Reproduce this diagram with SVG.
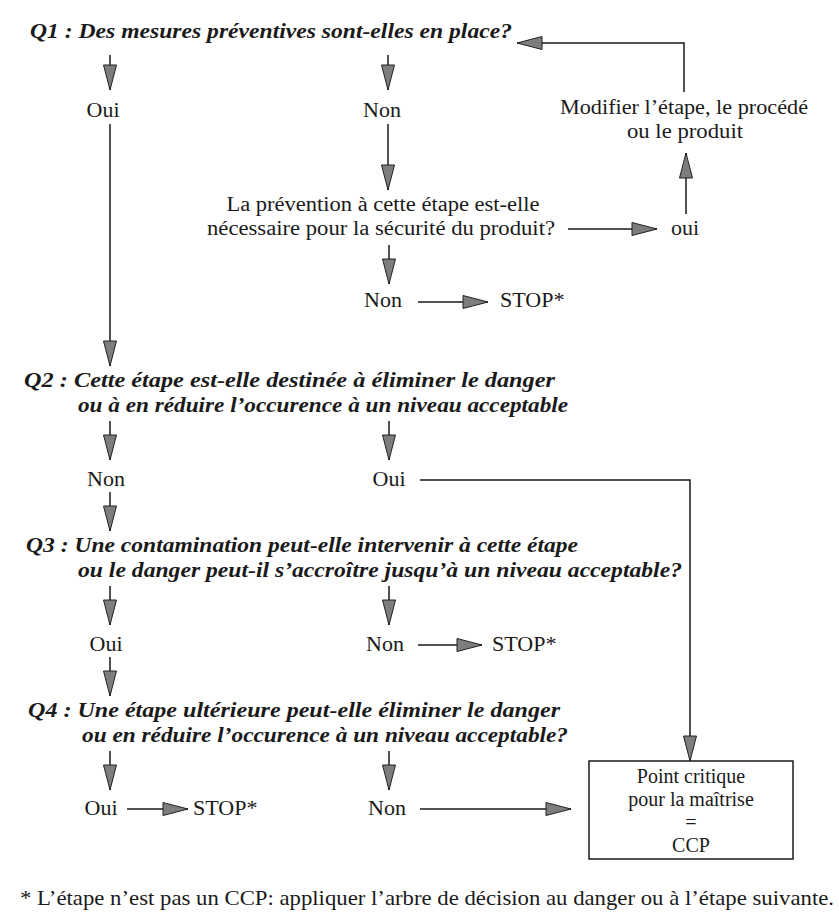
<svg xmlns="http://www.w3.org/2000/svg" width="839" height="912" viewBox="0 0 839 912">
<defs>
<marker id="ah" markerUnits="userSpaceOnUse" markerWidth="27" markerHeight="15" refX="26" refY="7.5" orient="auto">
<path d="M1,1 L26,7.5 L1,14 Z" fill="#7d7d7d" stroke="#222" stroke-width="1"/>
</marker>
<style>
.q{font-family:"Liberation Serif",serif;font-style:italic;font-weight:bold;font-size:22px;fill:#1a1a1a}
.t{font-family:"Liberation Serif",serif;font-size:22px;fill:#1a1a1a}
.s{font-size:20px}
.c{text-anchor:middle}
.ln{fill:none;stroke:#1a1a1a;stroke-width:1.5}
.ar{marker-end:url(#ah)}
</style>
</defs>
<rect width="839" height="912" fill="#ffffff"/>
<g id="connectors">
<path class="ln ar" d="M110,55 V90"/>
<path class="ln ar" d="M388,55 V90"/>
<path class="ln ar" d="M684,92 V43 H517"/>
<path class="ln ar" d="M388,124 V190"/>
<path class="ln ar" d="M568,229 H657"/>
<path class="ln ar" d="M686,214 V153"/>
<path class="ln ar" d="M389,245 V284"/>
<path class="ln ar" d="M418,302 H488"/>
<path class="ln ar" d="M110,124 V366"/>
<path class="ln ar" d="M110,421 V460"/>
<path class="ln ar" d="M389,421 V460"/>
<path class="ln ar" d="M420,480 H690 V761"/>
<path class="ln ar" d="M110,492 V531"/>
<path class="ln ar" d="M110,586 V625"/>
<path class="ln ar" d="M389,586 V625"/>
<path class="ln ar" d="M418,645 H482"/>
<path class="ln ar" d="M110,657 V696"/>
<path class="ln ar" d="M110,751 V790"/>
<path class="ln ar" d="M389,751 V790"/>
<path class="ln ar" d="M127,809 H188"/>
<path class="ln ar" d="M420,809 H571"/>
</g>
<g id="q1"><text class="q" x="30" y="38" textLength="482" lengthAdjust="spacingAndGlyphs">Q1 : Des mesures préventives sont-elles en place?</text></g>
<g id="q1-oui"><text class="t c" x="103" y="117">Oui</text></g>
<g id="q1-non"><text class="t c" x="382" y="117">Non</text></g>
<g id="modifier"><text class="t s c" x="684" y="114" textLength="248" lengthAdjust="spacingAndGlyphs">Modifier l’étape, le procédé</text><text class="t s c" x="685" y="138" textLength="116" lengthAdjust="spacingAndGlyphs">ou le produit</text></g>
<g id="prevention"><text class="t s c" x="383" y="211" textLength="313" lengthAdjust="spacingAndGlyphs">La prévention à cette étape est-elle</text><text class="t s c" x="381" y="235" textLength="348" lengthAdjust="spacingAndGlyphs">nécessaire pour la sécurité du produit?</text></g>
<g id="prev-oui"><text class="t" x="671" y="235">oui</text></g>
<g id="prev-non"><text class="t c" x="383" y="307">Non</text></g>
<g id="stop1"><text class="t" x="500" y="307">STOP*</text></g>
<g id="q2"><text class="q" x="24" y="387" textLength="531" lengthAdjust="spacingAndGlyphs">Q2 : Cette étape est-elle destinée à éliminer le danger</text><text class="q" x="78" y="412" textLength="490" lengthAdjust="spacingAndGlyphs">ou à en réduire l’occurence à un niveau acceptable</text></g>
<g id="q2-non"><text class="t c" x="106" y="486">Non</text></g>
<g id="q2-oui"><text class="t c" x="389" y="486">Oui</text></g>
<g id="q3"><text class="q" x="26" y="552" textLength="552" lengthAdjust="spacingAndGlyphs">Q3 : Une contamination peut-elle intervenir à cette étape</text><text class="q" x="78" y="577" textLength="604" lengthAdjust="spacingAndGlyphs">ou le danger peut-il s’accroître jusqu’à un niveau acceptable?</text></g>
<g id="q3-oui"><text class="t c" x="106" y="651">Oui</text></g>
<g id="q3-non"><text class="t c" x="385" y="651">Non</text></g>
<g id="stop2"><text class="t" x="492" y="651">STOP*</text></g>
<g id="q4"><text class="q" x="28" y="717" textLength="532" lengthAdjust="spacingAndGlyphs">Q4 : Une étape ultérieure peut-elle éliminer le danger</text><text class="q" x="82" y="742" textLength="486" lengthAdjust="spacingAndGlyphs">ou en réduire l’occurence à un niveau acceptable?</text></g>
<g id="q4-oui"><text class="t c" x="101" y="815">Oui</text></g>
<g id="stop3"><text class="t" x="193" y="815">STOP*</text></g>
<g id="q4-non"><text class="t c" x="387" y="815">Non</text></g>
<g id="ccp"><rect x="589" y="761" width="204" height="98" fill="none" stroke="#1a1a1a" stroke-width="1.5"/>
<text class="t s c" x="691" y="783">Point critique</text><text class="t s c" x="691" y="806">pour la maîtrise</text><text class="t s c" x="691" y="829">=</text><text class="t s c" x="691" y="852">CCP</text></g>
<g id="footnote"><text class="t" x="20" y="905" textLength="814" lengthAdjust="spacingAndGlyphs">* L’étape n’est pas un CCP: appliquer l’arbre de décision au danger ou à l’étape suivante.</text></g>
</svg>
